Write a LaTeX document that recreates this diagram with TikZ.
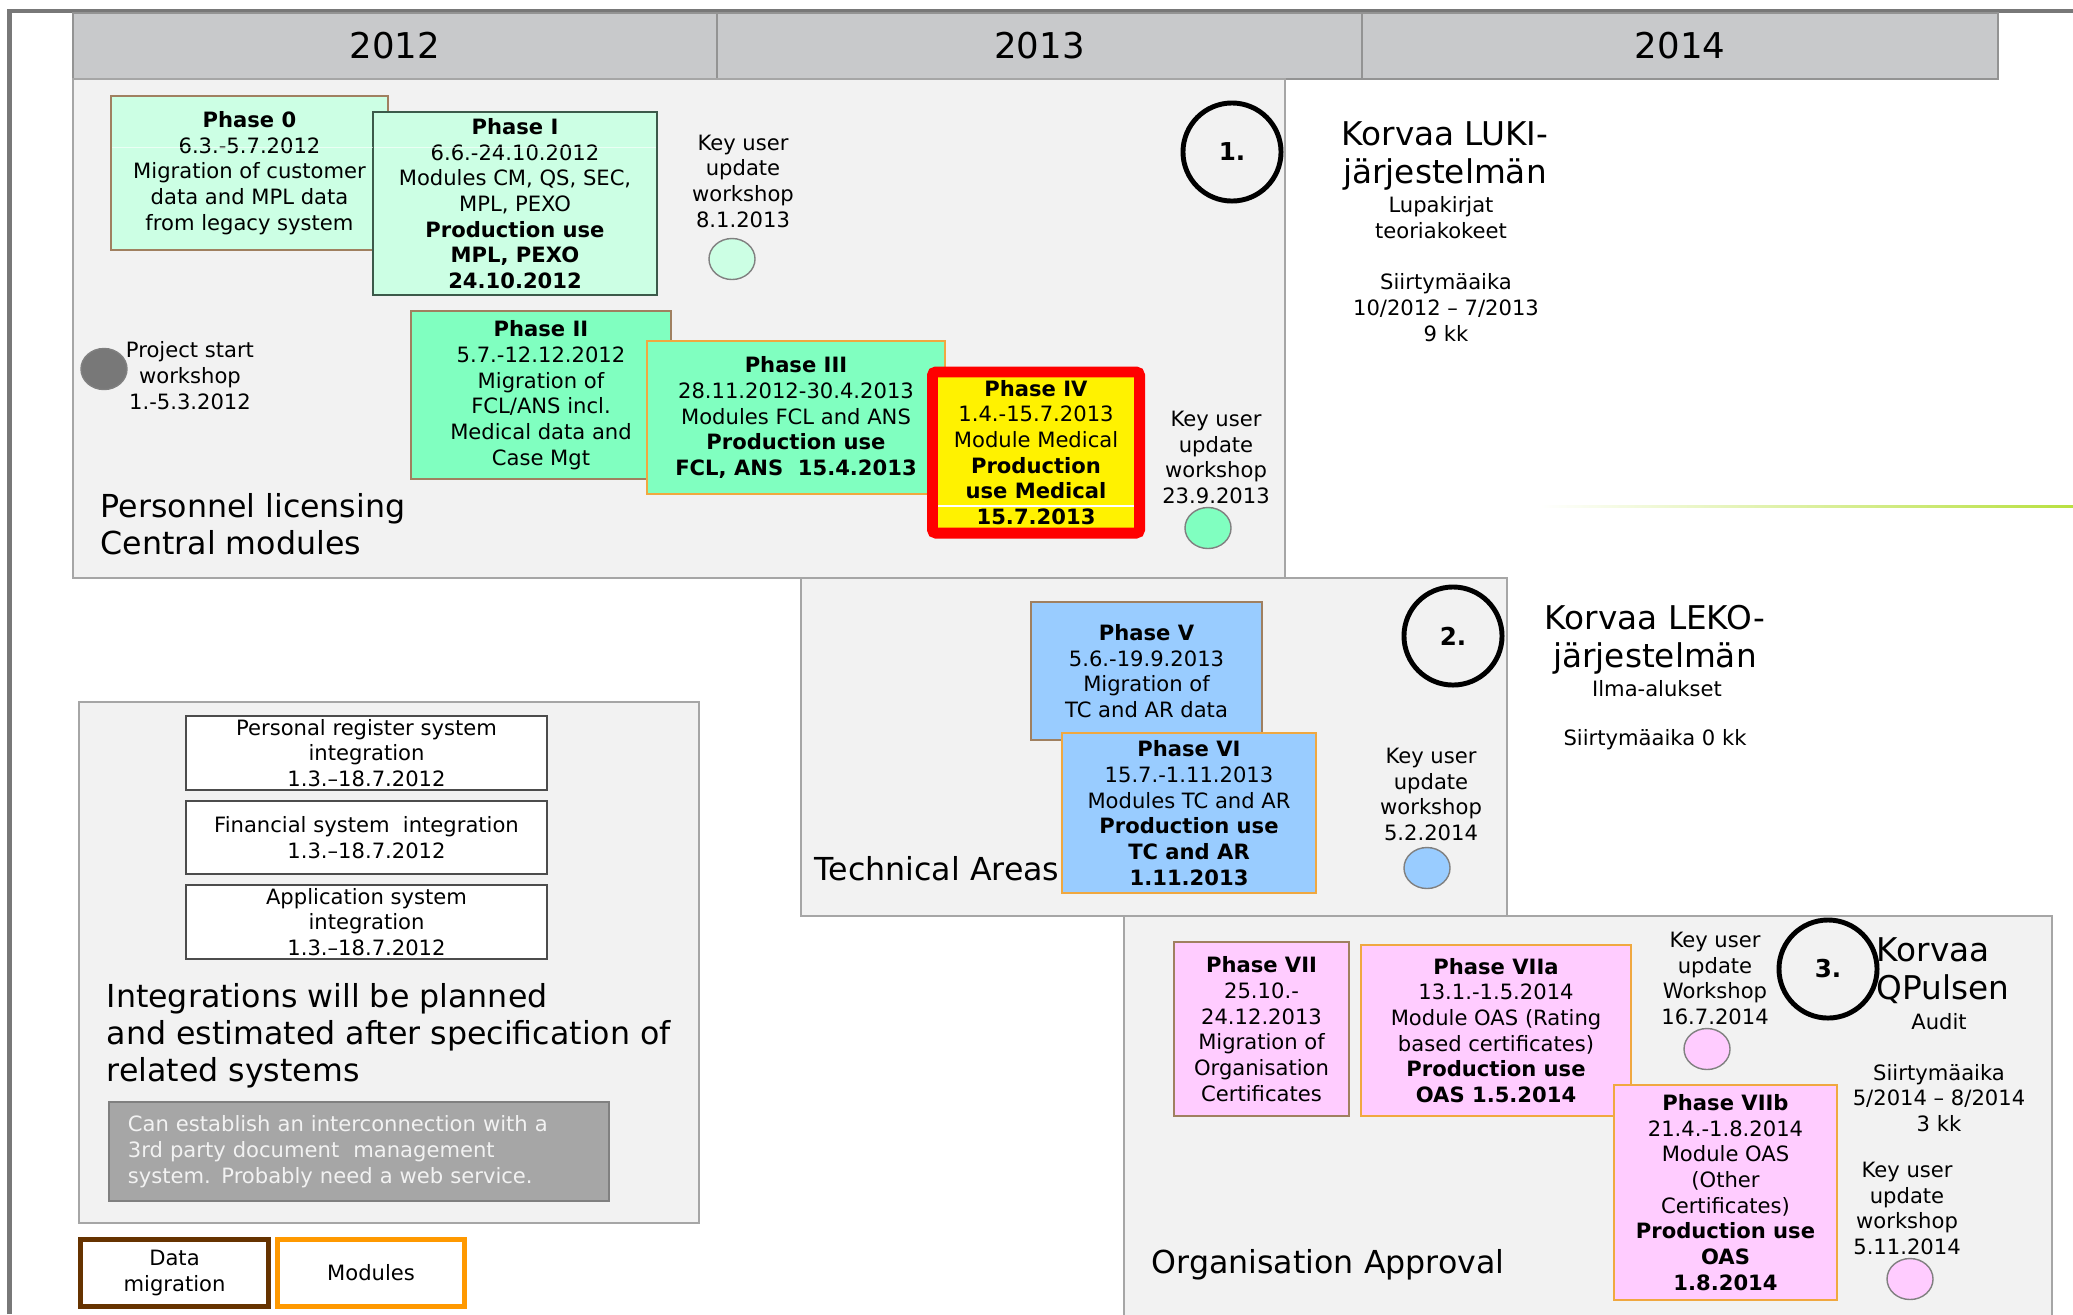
\documentclass[tikz,border=0pt]{standalone}
\usepackage{fontspec}
\setmainfont{DejaVu Sans}
\usetikzlibrary{shapes.geometric}

\definecolor{framegray}{HTML}{787878}
\definecolor{headgray}{HTML}{C8C9CB}
\definecolor{panelgray}{HTML}{F2F2F2}
\definecolor{panelline}{HTML}{A6A6A6}
\definecolor{mintlight}{HTML}{CCFFE4}
\definecolor{mint}{HTML}{80FFC0}
\definecolor{sky}{HTML}{99CCFF}
\definecolor{pink}{HTML}{FFCCFF}
\definecolor{migline}{HTML}{A08060}
\definecolor{modline}{HTML}{F0A840}
\definecolor{darkline}{HTML}{3C5A4A}
\definecolor{legbrown}{HTML}{663300}
\definecolor{legorange}{HTML}{FF9900}
\definecolor{notegray}{HTML}{A6A6A6}
\definecolor{limeline}{HTML}{B8E040}

\begin{document}
\begin{tikzpicture}[x=0.01cm, y=-0.01cm,
    smalltxt/.style={font=\fontsize{6}{7.3}\selectfont, align=center, inner sep=0pt},
    bigtxt/.style={font=\fontsize{9}{10.5}\selectfont, align=left, inner sep=0pt},
    titletxt/.style={font=\fontsize{9.3}{10.8}\selectfont, align=center, inner sep=0pt},
    yearcell/.style={draw=framegray!80, fill=headgray, line width=0.6pt, minimum height=0.66cm,
        font=\fontsize{10.1}{12}\selectfont, inner sep=0pt},
    panel/.style={draw=panelline, fill=panelgray, line width=0.6pt},
    phasebox/.style={smalltxt, line width=0.45pt},
    migbox/.style={phasebox, draw=migline},
    modbox/.style={phasebox, draw=modline},
    kucircle/.style={ellipse, draw=gray, line width=0.4pt, minimum width=0.46cm, minimum height=0.41cm, inner sep=0pt},
    numcircle/.style={circle, draw, line width=1.4pt, minimum size=0.98cm, inner sep=0pt,
        font=\fontsize{7}{8}\selectfont\bfseries},
    intbox/.style={smalltxt, draw=black!70, fill=white, line width=0.5pt, minimum width=3.61cm},
    legbox/.style={smalltxt, fill=white, line width=1.4pt, minimum height=0.67cm}
]
\useasboundingbox (0,0) rectangle (2073,1314);

% frame and year header
\draw[framegray, line width=1.4pt] (9.5,1314) -- (9.5,11) -- (2073,11);
\node[yearcell, minimum width=6.44cm] (y2012) at (395,46) {2012};
\node[yearcell, minimum width=6.45cm] (y2013) at (1039.5,46) {2013};
\node[yearcell, minimum width=6.36cm] (y2014) at (1680,46) {2014};

% panels
\filldraw[panel] (73,79) rectangle (1285,578);
\filldraw[panel] (801,578) rectangle (1507,916);
\filldraw[panel] (1124,916) rectangle (2052,1330);
\filldraw[panel] (79,702) rectangle (699,1223);

\shade[left color=white, right color=limeline] (1540,505) rectangle (2073,507);

% personnel licensing
\node[migbox, fill=mintlight, minimum width=2.77cm, minimum height=1.54cm] (ph0) at (249.5,173)
    {\textbf{Phase 0}\\6.3.-5.7.2012\\Migration of customer\\data and MPL data\\from legacy system};
\node[phasebox, draw=darkline, fill=mintlight, minimum width=2.84cm, minimum height=1.83cm] (ph1) at (515,203.5)
    {\textbf{Phase I}\\6.6.-24.10.2012\\Modules CM, QS, SEC,\\MPL, PEXO\\\textbf{Production use}\\\textbf{MPL, PEXO}\\\textbf{24.10.2012}};
\draw[white, opacity=0.6, line width=0.2pt] (112,147) -- (373,147) (374,147) -- (656,147);
\node[migbox, fill=mint, minimum width=2.60cm, minimum height=1.68cm] (ph2) at (541,395)
    {\textbf{Phase II}\\5.7.-12.12.2012\\Migration of\\FCL/ANS incl.\\Medical data and\\Case Mgt};
\node[modbox, fill=mint, minimum width=2.98cm, minimum height=1.53cm] (ph3) at (796,417.5)
    {\textbf{Phase III}\\28.11.2012-30.4.2013\\Modules FCL and ANS\\\textbf{Production use}\\\textbf{FCL, ANS\ \ 15.4.2013}};
\node[smalltxt, draw=red, fill=yellow, line width=3.1pt, rounded corners=1pt, minimum width=2.07cm, minimum height=1.61cm] (ph4) at (1036,452.5)
    {\textbf{Phase IV}\\1.4.-15.7.2013\\Module Medical\\\textbf{Production}\\\textbf{use Medical}\\\textbf{15.7.2013}};
\draw[white, line width=0.3pt] (938,506) -- (1134,506);

\node[kucircle, fill=framegray] (startc) at (104,369) {};
\node[smalltxt] (startt) at (190,375.5) {Project start\\workshop\\1.-5.3.2012};
\node[smalltxt] (ku1t) at (743,181) {Key user\\update\\workshop\\8.1.2013};
\node[kucircle, fill=mintlight] (ku1c) at (732,259) {};
\node[smalltxt] (ku2t) at (1216,457.5) {Key user\\update\\workshop\\23.9.2013};
\node[kucircle, fill=mint] (ku2c) at (1208,528) {};
\node[numcircle] (num1) at (1232,152) {1.};
\node[bigtxt] (plic) at (100,524.5) [anchor=west] {Personnel licensing\\Central modules};

\node[titletxt] (luki) at (1445,156) {Korvaa LUKI-\\järjestelmän};
\node[smalltxt] (lukisub) at (1441,217.5) {Lupakirjat\\teoriakokeet};
\node[smalltxt] (lukitime) at (1446,307.5) {Siirtymäaika\\10/2012 – 7/2013\\9 kk};

% technical areas
\node[migbox, fill=sky, minimum width=2.31cm, minimum height=1.38cm] (ph5) at (1146.5,671)
    {\textbf{Phase V}\\5.6.-19.9.2013\\Migration of\\TC and AR data};
\node[modbox, fill=sky, minimum width=2.54cm, minimum height=1.60cm] (ph6) at (1189,813)
    {\textbf{Phase VI}\\15.7.-1.11.2013\\Modules TC and AR\\\textbf{Production use}\\\textbf{TC and AR}\\\textbf{1.11.2013}};
\node[bigtxt, anchor=west] (tech) at (814,869) {Technical Areas};
\node[numcircle] (num2) at (1453,636) {2.};
\node[smalltxt] (ku3t) at (1431,794.5) {Key user\\update\\workshop\\5.2.2014};
\node[kucircle, fill=sky] (ku3c) at (1427,868) {};

\node[titletxt] (leko) at (1655,640) {Korvaa LEKO-\\järjestelmän};
\node[smalltxt] (lekosub) at (1657,689) {Ilma-alukset};
\node[smalltxt] (lekotime) at (1655,740) {Siirtymäaika 0 kk};

% organisation approval
\node[migbox, fill=pink, minimum width=1.75cm, minimum height=1.74cm] (ph7) at (1261.5,1029)
    {\textbf{Phase VII}\\25.10.-\\24.12.2013\\Migration of\\Organisation\\Certificates};
\node[modbox, fill=pink, minimum width=2.70cm, minimum height=1.71cm] (ph7a) at (1496,1030.5)
    {\textbf{Phase VIIa}\\13.1.-1.5.2014\\Module OAS (Rating\\based certificates)\\\textbf{Production use}\\\textbf{OAS 1.5.2014}};
\node[modbox, fill=pink, minimum width=2.23cm, minimum height=2.15cm] (ph7b) at (1725.5,1192.5)
    {\textbf{Phase VIIb}\\21.4.-1.8.2014\\Module OAS\\(Other\\Certificates)\\\textbf{Production use}\\\textbf{OAS}\\\textbf{1.8.2014}};
\node[smalltxt] (ku4t) at (1715,978.5) {Key user\\update\\Workshop\\16.7.2014};
\node[kucircle, fill=pink] (ku4c) at (1707,1049) {};
\node[numcircle] (num3) at (1828,969) {3.};
\node[titletxt, align=left, anchor=west] (qpul) at (1876,971) {Korvaa\\QPulsen};
\node[smalltxt] (qpulsub) at (1939,1022) {Audit};
\node[smalltxt] (qpultime) at (1939,1098) {Siirtymäaika\\5/2014 – 8/2014\\3 kk};
\node[smalltxt] (ku5t) at (1907,1208.5) {Key user\\update\\workshop\\5.11.2014};
\node[kucircle, fill=pink] (ku5c) at (1910,1279) {};
\node[bigtxt, anchor=west] (orga) at (1151,1265) {Organisation Approval};

% integrations
\node[intbox, minimum height=0.74cm] (int1) at (366.5,753) {Personal register system\\integration\\1.3.–18.7.2012};
\node[intbox, minimum height=0.73cm] (int2) at (366.5,837.5) {Financial system\ \ integration\\1.3.–18.7.2012};
\node[intbox, minimum height=0.74cm] (int3) at (366.5,922) {Application system\\integration\\1.3.–18.7.2012};
\node[bigtxt, anchor=west] (intnote) at (106,1036) {Integrations will be planned\\and estimated after specification of\\related systems};
\node[smalltxt, draw=gray, fill=notegray, text=panelgray, align=left, line width=0.5pt,
    text width=4.62cm, inner xsep=0.19cm, minimum height=0.99cm] (docnote) at (359,1151.5)
    {Can establish an interconnection with a\\3rd party document\ \ management\\system. Probably need a web service.};

% legend
\node[legbox, draw=legbrown, minimum width=1.88cm] (legmig) at (174.5,1273) {Data\\migration};
\node[legbox, draw=legorange, minimum width=1.87cm] (legmod) at (371,1273) {Modules};
\end{tikzpicture}
\end{document}
